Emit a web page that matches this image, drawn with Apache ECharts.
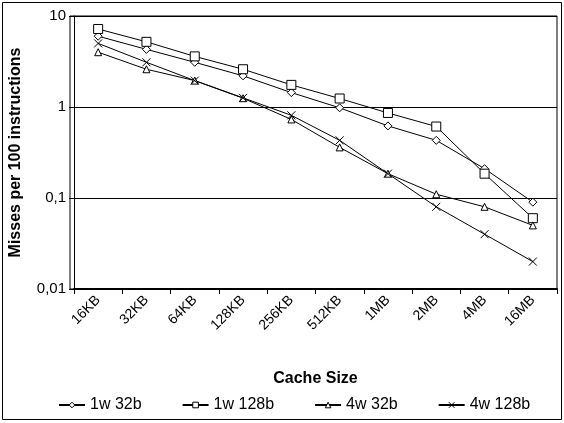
<!DOCTYPE html>
<html>
<head>
<meta charset="utf-8">
<script src="https://cdn.jsdelivr.net/npm/echarts@6/dist/echarts.min.js"></script>
<style>
  html, body { margin: 0; padding: 0; background: #fff; }
  #main { width: 564px; height: 423px; }
</style>
</head>
<body>
<div id="main"></div>
<script>
// categories and values
var cacheSizes = ['16KB', '32KB', '64KB', '128KB', '256KB', '512KB', '1MB', '2MB', '4MB', '16MB'];
var w1b32 = [6.0, 4.3, 3.1, 2.2, 1.44, 0.98, 0.62, 0.43, 0.21, 0.09];
var w1b128 = [7.2, 5.2, 3.6, 2.6, 1.75, 1.24, 0.86, 0.61, 0.185, 0.06];
var w4b32 = [4.0, 2.6, 1.95, 1.25, 0.73, 0.36, 0.185, 0.11, 0.08, 0.05];
var w4b128 = [5.0, 3.1, 1.95, 1.26, 0.81, 0.43, 0.185, 0.08, 0.04, 0.02];
var yTickLabels = {'0.01': '0,01', '0.1': '0,1', '1': '1', '10': '10'};

var chart = echarts.init(document.getElementById('main'));
var font = 'Liberation Sans, Arial, sans-serif';

function line(name, data, symbol, size) {
    return {
        name: name,
        type: 'line',
        data: data,
        symbol: symbol,
        symbolSize: size,
        showAllSymbol: true,
        lineStyle: {color: '#000', width: 1},
        itemStyle: {color: '#fff', borderColor: '#000', borderWidth: 1},
        emphasis: {disabled: true},
        animation: false
    };
}

chart.setOption({
    backgroundColor: '#fff',
    animation: false,
    textStyle: {fontFamily: font, color: '#000'},
    graphic: [{
        type: 'rect',
        shape: {x: 2.5, y: 2.5, width: 559, height: 417},
        style: {fill: 'none', stroke: '#000', lineWidth: 1},
        silent: true
    }, {
        type: 'rect',
        shape: {x: 70, y: 16, width: 487, height: 273},
        style: {fill: 'none', stroke: '#000', lineWidth: 1},
        silent: true
    }],
    grid: {left: 70, right: 7, top: 16, bottom: 134, containLabel: false},
    xAxis: {
        type: 'category',
        data: cacheSizes,
        boundaryGap: true,
        name: 'Cache Size',
        nameLocation: 'middle',
        nameGap: 82,
        nameTextStyle: {fontFamily: font, fontSize: 16, fontWeight: 'bold', color: '#000'},
        axisLine: {lineStyle: {color: '#000', width: 2}},
        axisTick: {show: true, length: 5, alignWithLabel: false, lineStyle: {color: '#000'}},
        axisLabel: {rotate: 45, fontFamily: font, fontSize: 14, color: '#000', margin: 9, interval: 0},
        splitLine: {show: false}
    },
    yAxis: {
        type: 'log',
        logBase: 10,
        min: 0.01,
        max: 10,
        name: 'Misses per 100 instructions',
        nameLocation: 'middle',
        nameGap: 50,
        nameTextStyle: {fontFamily: font, fontSize: 16, fontWeight: 'bold', color: '#000'},
        axisLine: {show: true, lineStyle: {color: '#000', width: 1}},
        axisTick: {show: true, length: 5, lineStyle: {color: '#000'}},
        minorTick: {show: false},
        axisLabel: {
            fontFamily: font, fontSize: 15, color: '#000', margin: 8,
            formatter: function (v) {
                var k = String(+v.toPrecision(3));
                return yTickLabels[k] !== undefined ? yTickLabels[k] : k;
            }
        },
        splitLine: {show: true, lineStyle: {color: '#000', width: 1}}
    },
    legend: {
        bottom: 5,
        left: 53,
        itemGap: 40,
        itemWidth: 26,
        itemHeight: 7,
        itemStyle: {color: '#fff', borderColor: '#000', borderWidth: 1},
        textStyle: {fontFamily: font, fontSize: 16, color: '#000'},
        data: ['1w 32b', '1w 128b', '4w 32b', '4w 128b']
    },
    series: [
        line('1w 32b', w1b32, 'diamond', 8),
        line('1w 128b', w1b128, 'rect', 9),
        line('4w 32b', w4b32, 'triangle', 7),
        line('4w 128b', w4b128, 'path://M0,0L10,10M10,0L0,10', 8)
    ]
});
</script>
</body>
</html>
